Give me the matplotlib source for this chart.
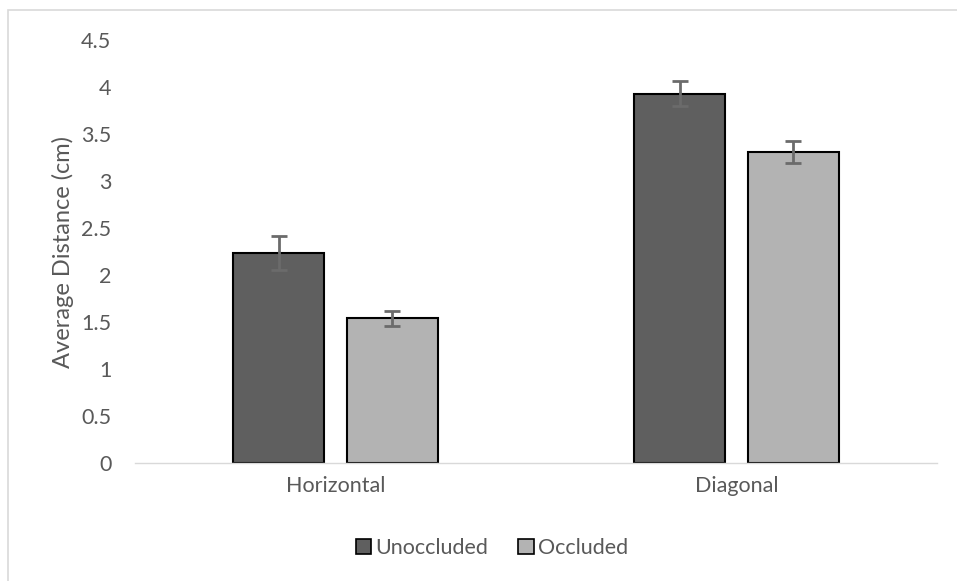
import matplotlib
matplotlib.use("Agg")
import matplotlib.pyplot as plt
from matplotlib.patches import Rectangle, Patch
import numpy as np

categories = ["Horizontal", "Diagonal"]
series = ["Unoccluded", "Occluded"]
unoccluded = [2.23, 3.93]
unoccluded_err = [0.18, 0.13]
occluded = [1.54, 3.31]
occluded_err = [0.08, 0.12]
yticks = [0, 0.5, 1, 1.5, 2, 2.5, 3, 3.5, 4, 4.5]

plt.rcParams['font.family'] = ['Lato', 'DejaVu Sans']

W, H = 957, 581
fig = plt.figure(figsize=(W/100, H/100), dpi=100)
fig.patches.append(Rectangle((8/W, -0.1), 1.2, 1 - 10/H + 0.1, transform=fig.transFigure,
                             fill=False, edgecolor='#d9d9d9', linewidth=1.2))
ax = fig.add_axes([135/W, 1-463/H, (937-135)/W, (463-40)/H])

x = np.arange(len(categories))
bw = 0.227
off = 0.142
colors = ['#5f5f5f', '#b3b3b3']
ekw = dict(ecolor='#6b6b6b', elinewidth=2, capsize=6, capthick=2)
ax.bar(x - off, unoccluded, bw, color=colors[0], edgecolor='black', linewidth=1.5,
       yerr=unoccluded_err, error_kw=ekw, label=series[0], zorder=2)
ax.bar(x + off, occluded, bw, color=colors[1], edgecolor='black', linewidth=1.5,
       yerr=occluded_err, error_kw=ekw, label=series[1], zorder=2)

ax.set_xlim(-0.5, 1.5)
ax.set_ylim(0, 4.5)
ax.set_yticks(yticks)
ax.set_yticklabels([f"{v:g}" for v in yticks])
ax.set_xticks(x)
ax.set_xticklabels(categories)
for s in ['top', 'right', 'left']:
    ax.spines[s].set_visible(False)
ax.spines['bottom'].set_color('#d9d9d9')
ax.spines['bottom'].set_linewidth(1)
ax.tick_params(axis='both', length=0, labelsize=15.5, labelcolor='#595959')
ax.tick_params(axis='y', pad=17)
ax.tick_params(axis='x', pad=9)
ax.set_ylabel("Average Distance (cm)", fontsize=17, color='#595959', labelpad=5)

handles = [Patch(facecolor=colors[0], edgecolor='black', linewidth=1.2),
           Patch(facecolor=colors[1], edgecolor='black', linewidth=1.2)]
fig.legend(handles, series, loc='center', bbox_to_anchor=(492/W, 1-548/H), ncol=2,
           frameon=False, fontsize=15.5, handlelength=0.7, handleheight=0.7,
           handletextpad=0.2, columnspacing=1.4, labelcolor='#595959')

fig.savefig("out.png", dpi=100)
